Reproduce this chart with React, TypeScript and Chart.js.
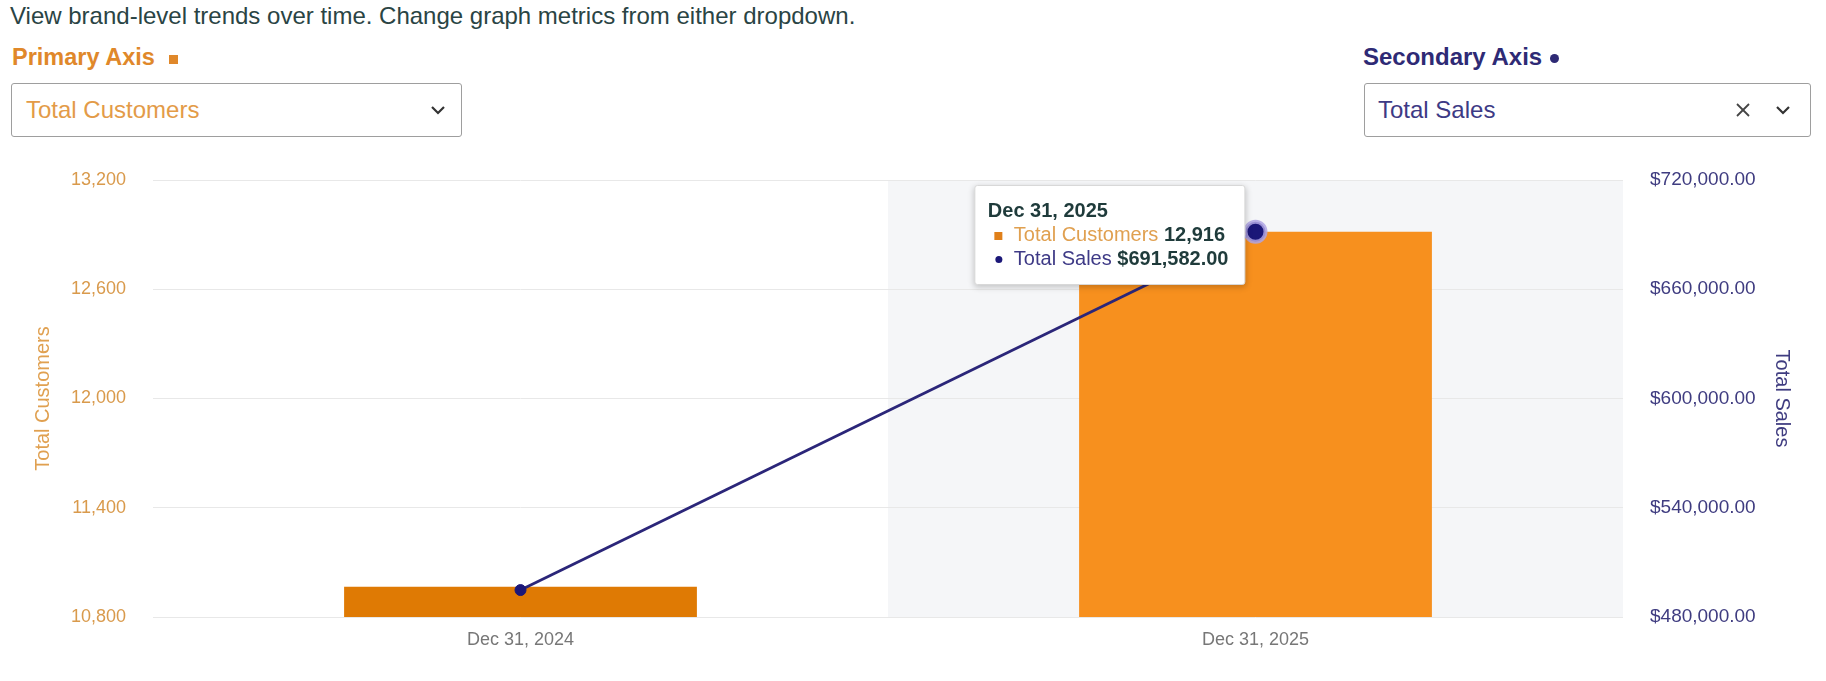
import React, { useEffect, useRef, useState } from "react";
import { Chart, registerables } from "chart.js";

Chart.register(...registerables);

// ---- data ----
const categories = ["Dec 31, 2024", "Dec 31, 2025"];
const totalCustomers = [10966, 12916];
const totalSales = [494800, 691582];
const customerTicks = [10800, 11400, 12000, 12600, 13200];
const salesTicks = [480000, 540000, 600000, 660000, 720000];
const ACTIVE_INDEX = 1;

const FONT = "'Liberation Sans', Arial, Helvetica, sans-serif";

const fmtCustomers = (v: number) => v.toLocaleString("en-US");
const fmtSales = (v: number) =>
  "$" + v.toLocaleString("en-US", { minimumFractionDigits: 2, maximumFractionDigits: 2 });

const bandPlugin = {
  id: "hoverBand",
  beforeDraw(chart: any) {
    const x = chart.scales.x;
    const area = chart.chartArea;
    if (!x || !area) return;
    const w = (x.right - x.left) / categories.length;
    const cx = x.getPixelForValue(ACTIVE_INDEX);
    const ctx = chart.ctx;
    ctx.save();
    ctx.fillStyle = "#F5F6F8";
    ctx.fillRect(cx - w / 2, area.top, w, area.bottom - area.top);
    ctx.restore();
  },
};

function Chevron({ left, top }: { left: number; top: number }) {
  return (
    <svg width={16} height={10} style={{ position: "absolute", left, top }} viewBox="0 0 16 10">
      <polyline points="2,2 8,8 14,2" fill="none" stroke="#333" strokeWidth={2.2} />
    </svg>
  );
}

function Cross({ left, top }: { left: number; top: number }) {
  return (
    <svg width={16} height={16} style={{ position: "absolute", left, top }} viewBox="0 0 16 16">
      <line x1="2" y1="2" x2="14" y2="14" stroke="#444" strokeWidth={1.8} />
      <line x1="14" y1="2" x2="2" y2="14" stroke="#444" strokeWidth={1.8} />
    </svg>
  );
}

export default function App() {
  const canvasRef = useRef<HTMLCanvasElement | null>(null);
  const [tip, setTip] = useState<{ x: number; y: number } | null>(null);

  useEffect(() => {
    if (!canvasRef.current) return;
    const chart = new Chart(canvasRef.current, {
      type: "bar",
      data: {
        labels: categories,
        datasets: [
          {
            type: "bar",
            label: "Total Customers",
            data: totalCustomers,
            yAxisID: "y",
            order: 1,
            backgroundColor: (c: any) => (c.dataIndex === ACTIVE_INDEX ? "#F7901E" : "#DF7A04"),
            borderWidth: 0,
            barPercentage: 0.6,
            categoryPercentage: 0.8,
          } as any,
          {
            type: "line",
            label: "Total Sales",
            data: totalSales,
            yAxisID: "y1",
            order: 0,
            borderColor: "#2B2679",
            borderWidth: 2.8,
            tension: 0,
            pointBackgroundColor: "#1B1778",
            pointBorderColor: (c: any) =>
              c.dataIndex === ACTIVE_INDEX ? "rgba(175,165,228,0.85)" : "#1B1778",
            pointBorderWidth: (c: any) => (c.dataIndex === ACTIVE_INDEX ? 4 : 1),
            pointRadius: (c: any) => (c.dataIndex === ACTIVE_INDEX ? 10 : 5.5),
          } as any,
        ],
      },
      options: {
        responsive: true,
        maintainAspectRatio: false,
        animation: false,
        events: [],
        layout: { padding: { top: 30, left: 0, right: 0, bottom: 0 } },
        plugins: {
          legend: { display: false },
          tooltip: { enabled: false },
        },
        scales: {
          x: {
            grid: { display: false, drawTicks: false },
            border: { display: false },
            ticks: {
              color: "#777777",
              font: { size: 18, family: FONT },
              padding: 12,
              maxRotation: 0,
            },
            afterFit: (s: any) => {
              s.height = 64;
            },
          },
          y: {
            position: "left",
            min: customerTicks[0],
            max: customerTicks[customerTicks.length - 1],
            grid: { color: "#E8E8E8", drawTicks: false, lineWidth: 1 },
            border: { display: false },
            ticks: {
              stepSize: customerTicks[1] - customerTicks[0],
              color: "#D99A4C",
              font: { size: 18, family: FONT },
              padding: 27,
              callback: (v: any) => fmtCustomers(Number(v)),
            },
            title: {
              display: true,
              text: "Total Customers",
              color: "#E0A050",
              font: { size: 20, family: FONT },
              padding: { top: 31, bottom: 0 },
            },
            afterFit: (s: any) => {
              s.width = 153;
              s.paddingTop = 0;
              s.paddingBottom = 0;
            },
          },
          y1: {
            position: "right",
            min: salesTicks[0],
            max: salesTicks[salesTicks.length - 1],
            grid: { display: false, drawTicks: false },
            border: { display: false },
            ticks: {
              stepSize: salesTicks[1] - salesTicks[0],
              color: "#3F3C80",
              font: { size: 19, family: FONT },
              padding: 27,
              callback: (v: any) => fmtSales(Number(v)),
            },
            title: {
              display: true,
              text: "Total Sales",
              color: "#3F3C80",
              font: { size: 20, family: FONT },
              padding: { top: 32, bottom: 0 },
            },
            afterFit: (s: any) => {
              s.width = 203;
              s.paddingTop = 0;
              s.paddingBottom = 0;
            },
          },
        },
      } as any,
      plugins: [bandPlugin],
    });
    const pt: any = chart.getDatasetMeta(1).data[ACTIVE_INDEX];
    if (pt) setTip({ x: pt.x, y: pt.y });
    return () => {
      chart.destroy();
    };
  }, []);

  const page: React.CSSProperties = {
    position: "absolute",
    left: 0,
    top: 0,
    width: 1826,
    height: 681,
    fontFamily: FONT,
    background: "#fff",
    overflow: "hidden",
  };

  return (
    <div style={page}>
      <div
        style={{
          position: "absolute",
          left: 10,
          top: 1,
          fontSize: 24,
          lineHeight: "30px",
          color: "#2A4444",
          whiteSpace: "nowrap",
        }}
      >
        View brand-level trends over time. Change graph metrics from either dropdown.
      </div>

      <div
        style={{
          position: "absolute",
          left: 12,
          top: 42,
          fontSize: 23.5,
          lineHeight: "30px",
          fontWeight: "bold",
          color: "#E0882A",
          whiteSpace: "nowrap",
        }}
      >
        Primary Axis
        <span
          style={{
            display: "inline-block",
            width: 9,
            height: 9,
            marginLeft: 14,
            background: "#E0882A",
            verticalAlign: "1px",
          }}
        />
      </div>
      <div
        style={{
          position: "absolute",
          left: 11,
          top: 83,
          width: 451,
          height: 54,
          boxSizing: "border-box",
          border: "1px solid #9E9E9E",
          borderRadius: 3,
          background: "#fff",
        }}
      >
        <div
          style={{
            position: "absolute",
            left: 14,
            top: 11,
            fontSize: 24,
            lineHeight: "30px",
            color: "#E39B48",
            whiteSpace: "nowrap",
          }}
        >
          Total Customers
        </div>
        <Chevron left={418} top={21} />
      </div>

      <div
        style={{
          position: "absolute",
          left: 1363,
          top: 42,
          fontSize: 24,
          lineHeight: "30px",
          fontWeight: "bold",
          color: "#2E2A75",
          whiteSpace: "nowrap",
        }}
      >
        Secondary Axis
        <span
          style={{
            display: "inline-block",
            width: 9,
            height: 9,
            marginLeft: 8,
            borderRadius: "50%",
            background: "#2E2A75",
            verticalAlign: "2px",
          }}
        />
      </div>
      <div
        style={{
          position: "absolute",
          left: 1364,
          top: 83,
          width: 447,
          height: 54,
          boxSizing: "border-box",
          border: "1px solid #9E9E9E",
          borderRadius: 3,
          background: "#fff",
        }}
      >
        <div
          style={{
            position: "absolute",
            left: 13,
            top: 11,
            fontSize: 24,
            lineHeight: "30px",
            color: "#3D3A85",
            whiteSpace: "nowrap",
          }}
        >
          Total Sales
        </div>
        <Cross left={370} top={18} />
        <Chevron left={410} top={21} />
      </div>

      <div style={{ position: "absolute", left: 0, top: 150, width: 1826, height: 531 }}>
        <canvas ref={canvasRef} />
        {tip && (
          <div
            style={{
              position: "absolute",
              left: tip.x - 10,
              top: tip.y - 47,
              transform: "translateX(-100%)",
              background: "#fff",
              border: "1px solid #D8D8D8",
              borderRadius: 3,
              boxShadow: "0 2px 6px rgba(0,0,0,0.22)",
              padding: "12px 16px 14px 13px",
              fontSize: 20,
              lineHeight: "24px",
              whiteSpace: "nowrap",
              color: "#1F3B3B",
            }}
          >
            <div style={{ fontWeight: "bold" }}>Dec 31, 2025</div>
            <div style={{ paddingLeft: 6 }}>
              <span
                style={{
                  display: "inline-block",
                  width: 8,
                  height: 8,
                  background: "#E0801A",
                  marginRight: 12,
                  verticalAlign: "1px",
                }}
              />
              <span style={{ color: "#E0A050" }}>Total Customers</span>{" "}
              <span style={{ fontWeight: "bold" }}>{fmtCustomers(totalCustomers[ACTIVE_INDEX])}</span>
            </div>
            <div style={{ paddingLeft: 6 }}>
              <span
                style={{
                  display: "inline-block",
                  width: 7,
                  height: 7,
                  borderRadius: "50%",
                  background: "#1B1778",
                  marginLeft: 1,
                  marginRight: 12,
                  verticalAlign: "2px",
                }}
              />
              <span style={{ color: "#3E3A86" }}>Total Sales</span>{" "}
              <span style={{ fontWeight: "bold" }}>{fmtSales(totalSales[ACTIVE_INDEX])}</span>
            </div>
          </div>
        )}
      </div>
    </div>
  );
}
